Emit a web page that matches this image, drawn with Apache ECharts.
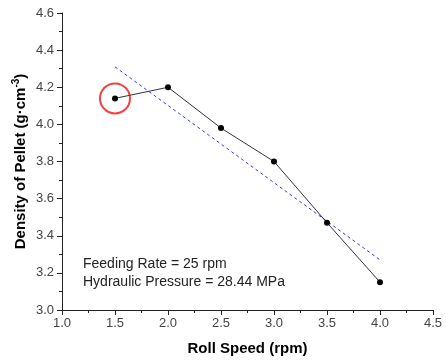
<!DOCTYPE html>
<html>
<head>
<meta charset="utf-8">
<script src="https://cdn.jsdelivr.net/npm/echarts@6/dist/echarts.min.js"></script>
<style>html,body{margin:0;padding:0;background:#fff;}#c{width:446px;height:362px;}</style>
</head>
<body>
<div id="c"></div>
<script>
const rollSpeed = [1.5, 2.0, 2.5, 3.0, 3.5, 4.0];
const density = [4.14, 4.20, 3.98, 3.80, 3.47, 3.15];
const fitX = [1.5, 4.0];
const fitY = [4.31, 3.27];
const highlightX = [1.5];
const highlightY = [4.14];
const noteLines = ['Feeding Rate = 25 rpm', 'Hydraulic Pressure = 28.44 MPa'];

const chart = echarts.init(document.getElementById('c'));
const font = 'Liberation Sans, Arial, sans-serif';
chart.setOption({
  animation: false,
  backgroundColor: '#fff',
  grid: { left: 62, right: 13, top: 13, bottom: 52 },
  xAxis: {
    type: 'value', min: 1.0, max: 4.5, interval: 0.5,
    name: 'Roll Speed (rpm)', nameLocation: 'middle', nameGap: 31, nameMoveOverlap: false,
    nameTextStyle: { fontFamily: font, fontSize: 15, fontWeight: 'bold', color: '#000' },
    axisLine: { show: true, lineStyle: { color: '#222', width: 1 } },
    axisTick: { show: true, length: 5, lineStyle: { color: '#222' } },
    minorTick: { show: true, splitNumber: 2, length: 3, lineStyle: { color: '#222' } },
    splitLine: { show: false },
    axisLabel: { fontFamily: font, fontSize: 13, color: '#444', margin: 7, formatter: v => v.toFixed(1) }
  },
  yAxis: {
    type: 'value', min: 3.0, max: 4.6, interval: 0.2,
    name: '{t|Density of Pellet (g·cm}{s|-3}{t|)}', nameLocation: 'middle', nameGap: 32, nameRotate: 90, nameMoveOverlap: false,
    nameTextStyle: {
      rich: {
        t: { fontFamily: font, fontSize: 15, fontWeight: 'bold', color: '#000' },
        s: { fontFamily: font, fontSize: 10, fontWeight: 'bold', color: '#000', verticalAlign: 'top', padding: [0, 0, 9, 0] }
      }
    },
    axisLine: { show: true, lineStyle: { color: '#222', width: 1 } },
    axisTick: { show: true, length: 5, lineStyle: { color: '#222' } },
    minorTick: { show: true, splitNumber: 2, length: 3, lineStyle: { color: '#222' } },
    splitLine: { show: false },
    axisLabel: { fontFamily: font, fontSize: 13, color: '#444', margin: 8, formatter: v => v.toFixed(1) }
  },
  series: [
    {
      type: 'line', data: fitX.map((x, i) => [x, fitY[i]]), symbol: 'none',
      lineStyle: { color: '#3333ee', width: 1, type: [3, 3] }, z: 2
    },
    {
      type: 'line', data: rollSpeed.map((x, i) => [x, density[i]]),
      symbol: 'circle', symbolSize: 6,
      itemStyle: { color: '#000' },
      lineStyle: { color: '#333', width: 1 }, z: 3
    },
    {
      type: 'scatter', data: highlightX.map((x, i) => [x, highlightY[i]]),
      symbol: 'circle', symbolSize: 30,
      itemStyle: { color: 'rgba(0,0,0,0)', borderColor: '#ee1111', borderWidth: 2 }, z: 4
    }
  ],
  graphic: [
    {
      type: 'text', left: 83, top: 255,
      style: { text: noteLines.join('\n'), fontFamily: font, fontSize: 14, lineHeight: 18, fill: '#222' }
    }
  ]
});
</script>
</body>
</html>
